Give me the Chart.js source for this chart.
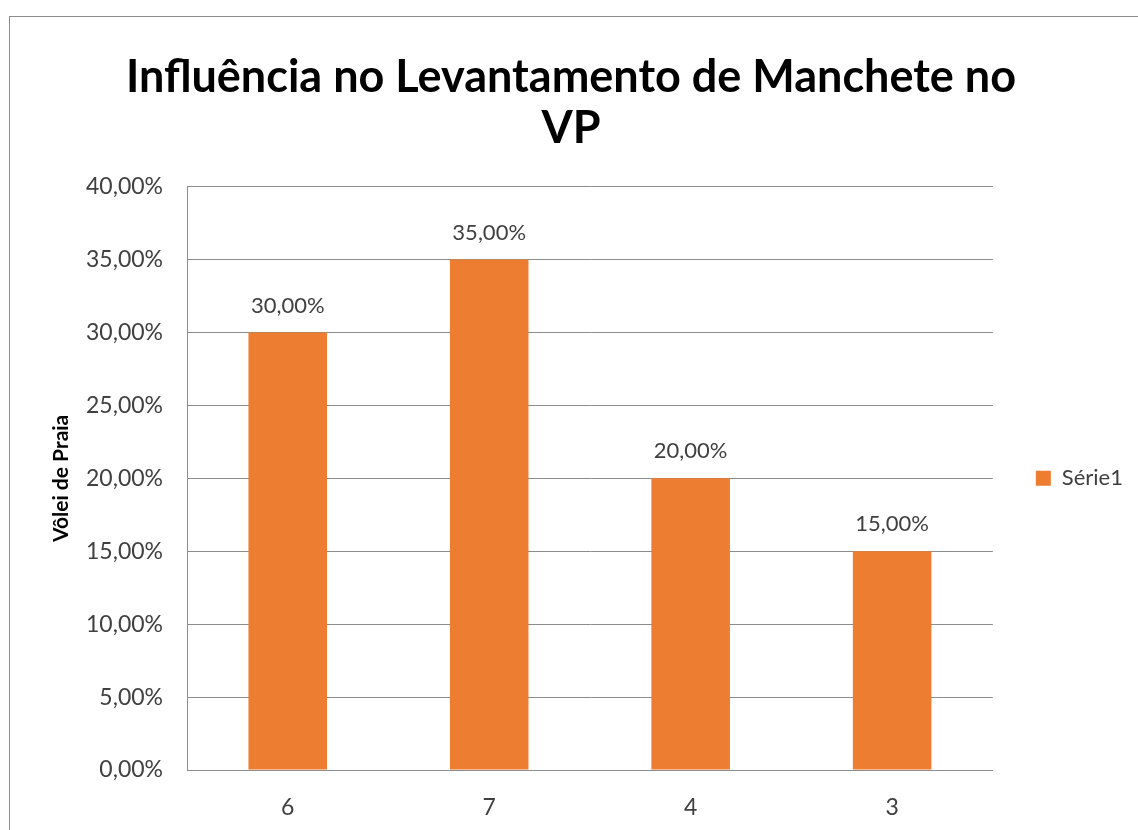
<!DOCTYPE html>
<html>
<head>
<meta charset="utf-8">
<script src="https://cdn.jsdelivr.net/npm/chart.js@4"></script>
<style>
  html, body { margin: 0; padding: 0; background: #fff; overflow: hidden; }
  #frame { position: absolute; left: 9px; top: 16px; width: 1200px; height: 900px; border: 1px solid #8c8c8c; }
  #wrap { position: absolute; left: 0; top: 0; width: 1138px; height: 830px; }
</style>
</head>
<body>
<div id="frame"></div>
<div id="wrap"><canvas id="myChart"></canvas></div>
<script>
const CATEGORIES = ['6', '7', '4', '3'];
const SERIE1 = [0.30, 0.35, 0.20, 0.15];
const Y_TICKS = [0, 0.05, 0.10, 0.15, 0.20, 0.25, 0.30, 0.35, 0.40];

const FONT = 'Lato, "Open Sans", sans-serif';
const BAR_COLOR = '#ED7D31';

function pct(v) {
    return (v * 100).toFixed(2).replace('.', ',') + '%';
}

// labels over each bar, like the excel data labels
const barLabels = {
    id: 'barLabels',
    afterDatasetsDraw(chart) {
        const ctx = chart.ctx;
        const meta = chart.getDatasetMeta(0);
        ctx.save();
        ctx.font = '22px ' + FONT;
        ctx.fillStyle = '#404040';
        ctx.textAlign = 'center';
        ctx.textBaseline = 'middle';
        meta.data.forEach((bar, i) => {
            ctx.fillText(pct(chart.data.datasets[0].data[i]), bar.x, bar.y - 27);
        });
        ctx.restore();
    }
};

function renderChart() {
    const ctx = document.getElementById('myChart');
    new Chart(ctx, {
        type: 'bar',
        data: {
            labels: CATEGORIES,
            datasets: [{
                label: 'Série1',
                data: SERIE1,
                backgroundColor: BAR_COLOR,
                categoryPercentage: 1,
                barPercentage: 0.39
            }]
        },
        plugins: [barLabels],
        options: {
            responsive: true,
            maintainAspectRatio: false,
            animation: false,
            layout: {
                padding: { left: 9, right: 5, top: 25, bottom: 0 }
            },
            plugins: {
                title: {
                    display: true,
                    text: ['Influência no Levantamento de Manchete no', 'VP'],
                    color: '#000',
                    font: { family: FONT, size: 45, weight: 'bold', lineHeight: 1.13 },
                    padding: { top: 27, bottom: 33 }
                },
                legend: {
                    position: 'right',
                    fullSize: false,
                    labels: {
                        color: '#404040',
                        font: { family: FONT, size: 22 },
                        boxWidth: 15,
                        boxHeight: 15,
                        padding: 43
                    }
                },
                tooltip: { enabled: false }
            },
            scales: {
                x: {
                    afterFit(scale) {
                        scale.height = 60;
                    },
                    grid: { display: false, drawTicks: false },
                    border: { color: '#8c8c8c' },
                    ticks: {
                        color: '#404040',
                        font: { family: FONT, size: 23 },
                        padding: 24
                    }
                },
                y: {
                    min: 0,
                    max: 0.4,
                    afterBuildTicks(scale) {
                        scale.ticks = Y_TICKS.map(v => ({ value: v }));
                    },
                    afterFit(scale) {
                        scale.width = 178;
                    },
                    grid: { color: '#8c8c8c', drawTicks: false },
                    border: { color: '#8c8c8c' },
                    ticks: {
                        color: '#404040',
                        font: { family: FONT, size: 23 },
                        padding: 24,
                        callback: (v) => pct(v)
                    },
                    title: {
                        display: true,
                        text: 'Vôlei de Praia',
                        color: '#000',
                        font: { family: FONT, size: 21, weight: 'bold' },
                        padding: { top: 40, bottom: 0 }
                    }
                }
            }
        }
    });
}

renderChart();
</script>
</body>
</html>
